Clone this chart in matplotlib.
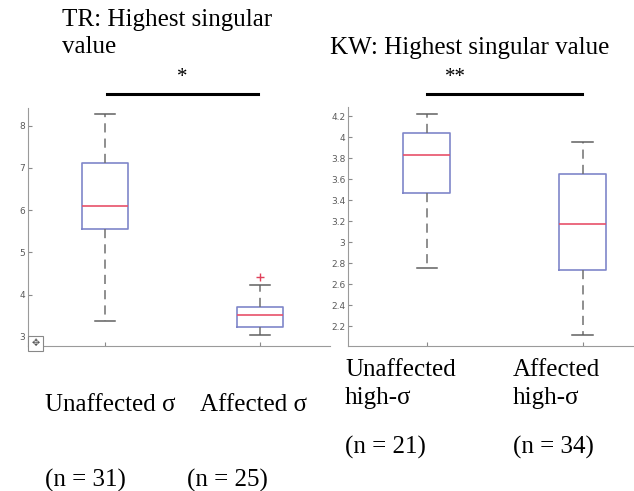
import matplotlib
matplotlib.use("Agg")
import matplotlib.pyplot as plt
from matplotlib.lines import Line2D
from matplotlib.patches import Rectangle

# box statistics: whisker low, Q1, median, Q3, whisker high
tr_labels = ["Unaffected σ", "Affected σ"]
tr_low = [3.37, 3.03]
tr_q1 = [5.55, 3.24]
tr_med = [6.09, 3.51]
tr_q3 = [7.11, 3.70]
tr_high = [8.28, 4.23]
tr_fliers = [[], [4.41]]
tr_n = [31, 25]
tr_yticks = [3, 4, 5, 6, 7, 8]

kw_labels = ["Unaffected\nhigh-σ", "Affected\nhigh-σ"]
kw_low = [2.755, 2.114]
kw_q1 = [3.464, 2.733]
kw_med = [3.829, 3.171]
kw_q3 = [4.038, 3.648]
kw_high = [4.22, 3.95]
kw_fliers = [[], []]
kw_n = [21, 34]
kw_yticks = [2.2, 2.4, 2.6, 2.8, 3.0, 3.2, 3.4, 3.6, 3.8, 4.0, 4.2]

W, H = 634, 491
fig = plt.figure(figsize=(W / 100, H / 100), dpi=100)
serif = "Liberation Serif"


def px_axes(x0, y0, x1, y1):
    return fig.add_axes([x0 / W, 1 - y1 / H, (x1 - x0) / W, (y1 - y0) / H])


def fx(x):
    return x / W


def fy(y):
    return 1 - y / H


def draw_box(ax, low, q1, med, q3, high, fliers):
    stats = []
    for i in range(len(med)):
        stats.append(dict(whislo=low[i], q1=q1[i], med=med[i], q3=q3[i],
                          whishi=high[i], fliers=fliers[i]))
    ax.bxp(stats, positions=[1, 2], widths=0.3, capwidths=0.13,
           boxprops=dict(color="#7f86c9", linewidth=1.2),
           medianprops=dict(color="#e8506a", linewidth=1.2),
           whiskerprops=dict(color="#707070", linewidth=1.1, linestyle=(0, (6, 4))),
           capprops=dict(color="#606060", linewidth=1.1),
           flierprops=dict(marker="+", markeredgecolor="#e0405a", markersize=6))
    for s in ["top", "right"]:
        ax.spines[s].set_visible(False)
    for s in ["left", "bottom"]:
        ax.spines[s].set_color("#9a9a9a")
    ax.tick_params(direction="in", length=3, colors="#8a8a8a",
                   labelsize=6.5, labelcolor="#5a5a5a", pad=2)
    ax.set_xticks([1, 2])
    ax.set_xticklabels(["", ""])


ax1 = px_axes(28, 108, 330, 346)
draw_box(ax1, tr_low, tr_q1, tr_med, tr_q3, tr_high, tr_fliers)
ax1.set_xlim(0.503, 2.45)
ax1.set_ylim(2.78, 8.42)
ax1.set_yticks(tr_yticks)
ax1.set_yticklabels([str(t) for t in tr_yticks])

ax2 = px_axes(348, 107, 634, 346)
draw_box(ax2, kw_low, kw_q1, kw_med, kw_q3, kw_high, kw_fliers)
ax2.set_xlim(0.495, 2.33)
ax2.set_ylim(2.01, 4.286)
ax2.set_yticks(kw_yticks)
ax2.set_yticklabels(["%g" % t for t in kw_yticks])

# small "move" handle in the lower left corner
fig.patches.append(Rectangle((fx(28), fy(351)), 15 / W, 15 / H,
                             transform=fig.transFigure, facecolor="white",
                             edgecolor="#888888", linewidth=0.8))
fig.text(fx(35.5), fy(343.5), "✥", fontsize=7, color="#555555",
         ha="center", va="center")

# titles and significance bars
fig.text(fx(62), fy(20), "TR: Highest singular", family=serif, fontsize=18,
         va="center")
fig.text(fx(62), fy(47), "value", family=serif, fontsize=18, va="center")
fig.text(fx(330), fy(48), "KW: Highest singular value", family=serif,
         fontsize=18, va="center")
fig.text(fx(182), fy(78), "*", family=serif, fontsize=15, ha="center", va="center")
fig.text(fx(455), fy(78), "**", family=serif, fontsize=15, ha="center", va="center")
fig.lines.append(Line2D([fx(107), fx(258)], [fy(94), fy(94)],
                        transform=fig.transFigure, color="black", linewidth=2.2))
fig.lines.append(Line2D([fx(427), fx(582)], [fy(94), fy(94)],
                        transform=fig.transFigure, color="black", linewidth=2.2))

# group labels below the panels
for x, lab in zip([45, 200], tr_labels):
    fig.text(fx(x), fy(405), lab, family=serif, fontsize=18, va="center")
for x, n in zip([45, 187], tr_n):
    fig.text(fx(x), fy(480), "(n = %d)" % n, family=serif, fontsize=18,
             va="center")
for x, lab, n in zip([345, 513], kw_labels, kw_n):
    fig.text(fx(x), fy(384), lab, family=serif, fontsize=18, va="center",
             linespacing=1.3)
    fig.text(fx(x), fy(447), "(n = %d)" % n, family=serif, fontsize=18,
             va="center")

fig.savefig("out.png", dpi=100)
